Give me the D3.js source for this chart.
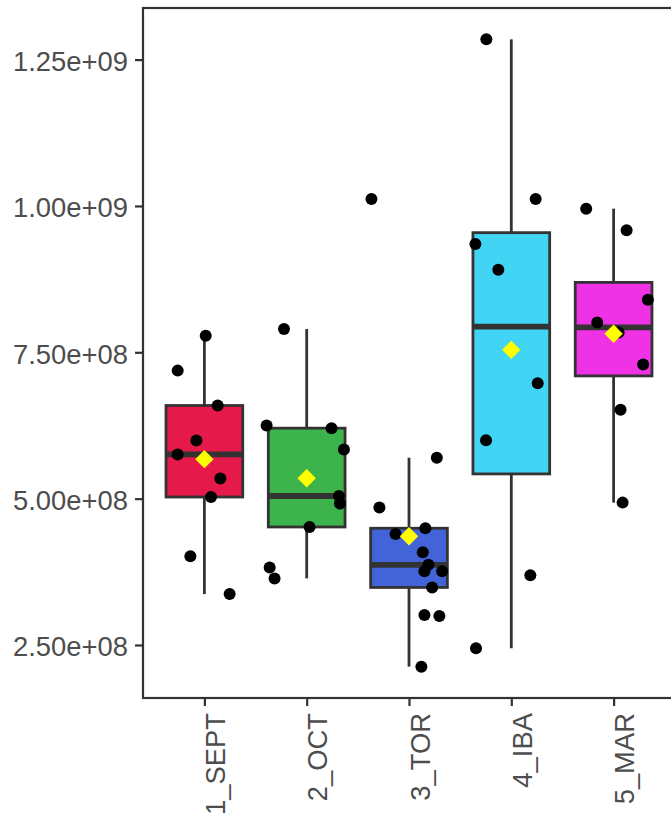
<!DOCTYPE html>
<html>
<head>
<meta charset="utf-8">
<script src="https://cdn.jsdelivr.net/npm/d3@7"></script>
<style>
  html, body { margin: 0; padding: 0; background: #ffffff; }
  svg { display: block; }
  text { font-family: "Liberation Sans", Arial, sans-serif; }
</style>
</head>
<body>
<div id="chart"></div>
<script>
// ---- data ----
const categories = ["1_SEPT", "2_OCT", "3_TOR", "4_IBA", "5_MAR"];
const colors = ["#e6194B", "#3cb44b", "#4363d8", "#42d4f4", "#f032e6"];
const yTicks = [2.5e8, 5.0e8, 7.5e8, 1.0e9, 1.25e9];

const septValues = [7.784e8, 7.187e8, 6.591e8, 5.994e8, 5.756e8, 5.346e8, 5.028e8, 4.017e8, 3.369e8];
const septJitter = [0.013, -0.261, 0.130, -0.078, -0.261, 0.156, 0.065, -0.137, 0.247];

const octValues = [7.898e8, 6.250e8, 6.204e8, 5.841e8, 5.045e8, 4.915e8, 4.516e8, 3.824e8, 3.637e8];
const octJitter = [-0.222, -0.392, 0.243, 0.364, 0.315, 0.325, 0.028, -0.362, -0.314];

const torValues = [10.119e8, 5.699e8, 4.847e8, 4.494e8, 4.397e8, 4.085e8, 3.869e8, 3.761e8, 3.761e8, 3.483e8, 3.011e8, 2.994e8, 2.130e8];
const torJitter = [-0.367, 0.272, -0.289, 0.160, -0.132, 0.135, 0.190, 0.151, 0.324, 0.226, 0.151, 0.297, 0.121];

const ibaValues = [12.846e8, 10.119e8, 9.352e8, 8.909e8, 6.971e8, 5.999e8, 3.693e8, 2.444e8];
const ibaJitter = [-0.244, 0.238, -0.351, -0.127, 0.258, -0.247, 0.186, -0.345];

const marValues = [9.954e8, 9.585e8, 8.397e8, 8.010e8, 7.840e8, 7.290e8, 6.517e8, 4.932e8];
const marJitter = [-0.268, 0.127, 0.335, -0.160, 0.049, 0.289, 0.068, 0.088];

const groupValues = [septValues, octValues, torValues, ibaValues, marValues];
const groupJitter = [septJitter, octJitter, torJitter, ibaJitter, marJitter];

// ---- layout ----
const W = 671, H = 819;
const panel = { left: 143, right: 675, top: 8, bottom: 698 };
const lineCol = "#333333";
const textCol = "#4D4D4D";
const fontSize = 27.4;

const svg = d3.select("#chart").append("svg").attr("width", W).attr("height", H);

// scales
const allVals = groupValues.flat();
const [vmin, vmax] = d3.extent(allVals);
const pad = (vmax - vmin) * 0.05;
const y = d3.scaleLinear().domain([vmin - pad, vmax + pad]).range([panel.bottom, panel.top]);
const x = d3.scalePoint().domain(categories).range([panel.left, panel.right]).padding(0.6);
const step = x.step();
const boxW = 0.75 * step;

// stats (ggplot-like boxplot)
const stats = groupValues.map((vals, i) => {
  const s = vals.slice().sort(d3.ascending);
  const q1 = d3.quantile(s, 0.25), med = d3.quantile(s, 0.5), q3 = d3.quantile(s, 0.75);
  const iqr = q3 - q1;
  const lo = d3.min(s.filter(v => v >= q1 - 1.5 * iqr));
  const hi = d3.max(s.filter(v => v <= q3 + 1.5 * iqr));
  return { cat: categories[i], q1, med, q3, lo, hi, mean: d3.mean(s), color: colors[i] };
});

const gBox = svg.append("g");
stats.forEach(st => {
  const cx = x(st.cat);
  gBox.append("line").attr("x1", cx).attr("x2", cx).attr("y1", y(st.hi)).attr("y2", y(st.q3))
    .attr("stroke", lineCol).attr("stroke-width", 2.8);
  gBox.append("line").attr("x1", cx).attr("x2", cx).attr("y1", y(st.q1)).attr("y2", y(st.lo))
    .attr("stroke", lineCol).attr("stroke-width", 2.8);
  gBox.append("rect").attr("x", cx - boxW / 2).attr("width", boxW)
    .attr("y", y(st.q3)).attr("height", y(st.q1) - y(st.q3))
    .attr("fill", st.color).attr("stroke", lineCol).attr("stroke-width", 2.8);
  gBox.append("line").attr("x1", cx - boxW / 2).attr("x2", cx + boxW / 2)
    .attr("y1", y(st.med)).attr("y2", y(st.med))
    .attr("stroke", lineCol).attr("stroke-width", 5.8);
});

// jittered points
const gPts = svg.append("g");
groupValues.forEach((vals, i) => {
  vals.forEach((v, j) => {
    gPts.append("circle")
      .attr("cx", x(categories[i]) + groupJitter[i][j] * step)
      .attr("cy", y(v)).attr("r", 6).attr("fill", "#000");
  });
});

// mean diamonds
const gMean = svg.append("g");
const dH = 9.2;
stats.forEach(st => {
  const cx = x(st.cat), cy = y(st.mean);
  gMean.append("path")
    .attr("d", `M${cx},${cy - dH}L${cx + dH},${cy}L${cx},${cy + dH}L${cx - dH},${cy}Z`)
    .attr("fill", "#FFFF00");
});

// panel border
svg.append("rect").attr("x", panel.left).attr("y", panel.top)
  .attr("width", panel.right - panel.left).attr("height", panel.bottom - panel.top)
  .attr("fill", "none").attr("stroke", lineCol).attr("stroke-width", 2.2);

// y axis
const yAxis = d3.axisLeft(y).tickValues(yTicks).tickSize(8).tickPadding(7)
  .tickFormat(d => d3.format(".2e")(d).replace(/e([+-])(\d)$/, "e$10$2"));
const gy = svg.append("g").attr("transform", `translate(${panel.left},0)`).call(yAxis);
gy.select(".domain").remove();
gy.selectAll(".tick line").attr("stroke", lineCol).attr("stroke-width", 2.2);
gy.selectAll(".tick text").attr("fill", textCol).attr("font-size", fontSize)
  .attr("font-family", "'Liberation Sans', Arial, sans-serif").attr("dy", "0.4em");

// x axis
const xAxis = d3.axisBottom(x).tickSize(8).tickPadding(6);
const gx = svg.append("g").attr("transform", `translate(0,${panel.bottom})`).call(xAxis);
gx.select(".domain").remove();
gx.selectAll(".tick line").attr("stroke", lineCol).attr("stroke-width", 2.2);
gx.selectAll(".tick text")
  .attr("fill", textCol).attr("font-size", fontSize)
  .attr("font-family", "'Liberation Sans', Arial, sans-serif")
  .attr("transform", "rotate(-90)")
  .attr("text-anchor", "end")
  .attr("x", -15).attr("y", 0).attr("dy", "0.73em");
</script>
</body>
</html>
